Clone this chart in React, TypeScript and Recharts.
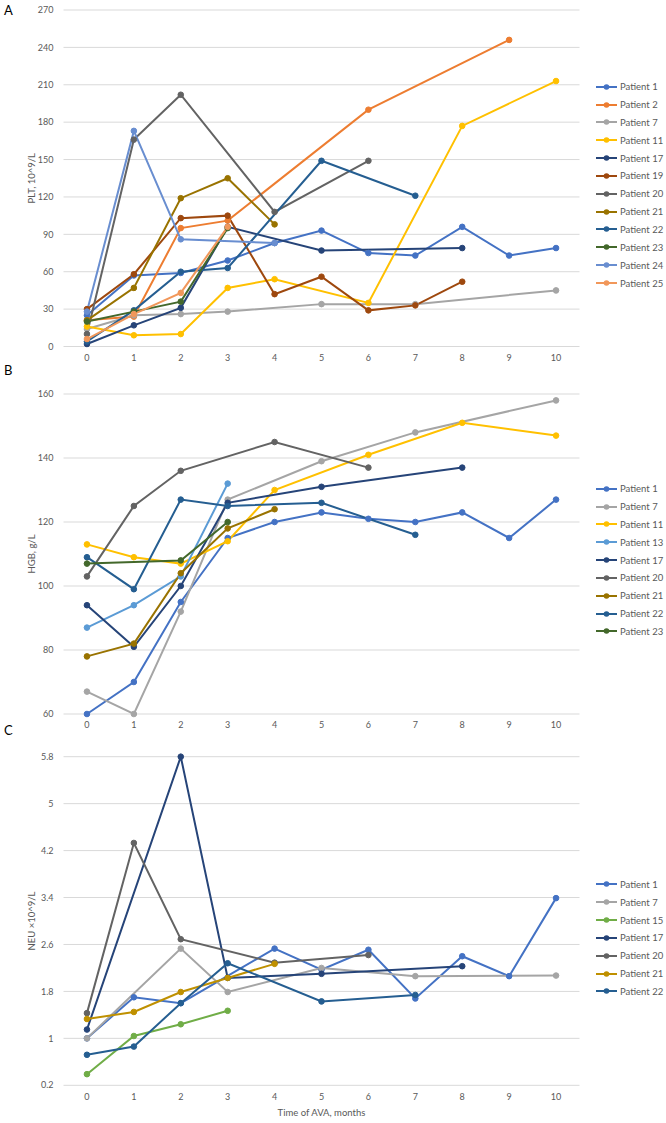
import React from 'react';
import { LineChart, Line, XAxis, YAxis, CartesianGrid } from 'recharts';

// months on the x axis (Time of AVA)
const months = [0, 1, 2, 3, 4, 5, 6, 7, 8, 9, 10];
const monthTicks = [0, 1, 2, 3, 4, 5, 6, 7, 8, 9, 10];

// A: PLT, 10^9/L
const pltNames = ['Patient 1', 'Patient 2', 'Patient 7', 'Patient 11', 'Patient 17', 'Patient 19', 'Patient 20', 'Patient 21', 'Patient 22', 'Patient 23', 'Patient 24', 'Patient 25'];
const pltP1 = [25, 57, 59, 69, 83, 93, 75, 73, 96, 73, 79];
const pltP2 = [21, 24, 95, 101, null, null, 190, null, null, 246, null];
const pltP7 = [14, 25, 26, 28, null, 34, null, 34, null, null, 45];
const pltP11 = [16, 9, 10, 47, 54, null, 35, null, 177, null, 213];
const pltP17 = [2, 17, 31, 96, null, 77, null, null, 79, null, null];
const pltP19 = [30, 58, 103, 105, 42, 56, 29, 33, 52, null, null];
const pltP20 = [10, 166, 202, null, 108, null, 149, null, null, null, null];
const pltP21 = [21, 47, 119, 135, 98, null, null, null, null, null, null];
const pltP22 = [4, 29, 60, 63, null, 149, null, 121, null, null, null];
const pltP23 = [20, 28, 36, 95, null, null, null, null, null, null, null];
const pltP24 = [28, 173, 86, null, 83, null, null, null, null, null, null];
const pltP25 = [6, 26, 43, 96, null, null, null, null, null, null, null];
const pltTicks = [0, 30, 60, 90, 120, 150, 180, 210, 240, 270];

// B: HGB, g/L
const hgbNames = ['Patient 1', 'Patient 7', 'Patient 11', 'Patient 13', 'Patient 17', 'Patient 20', 'Patient 21', 'Patient 22', 'Patient 23'];
const hgbP1 = [60, 70, 95, 115, 120, 123, 121, 120, 123, 115, 127];
const hgbP7 = [67, 60, 92, 127, null, 139, null, 148, null, null, 158];
const hgbP11 = [113, 109, 107, 114, 130, null, 141, null, 151, null, 147];
const hgbP13 = [87, 94, 103, 132, null, null, null, null, null, null, null];
const hgbP17 = [94, 81, 100, 126, null, 131, null, null, 137, null, null];
const hgbP20 = [103, 125, 136, null, 145, null, 137, null, null, null, null];
const hgbP21 = [78, 82, 104, 118, 124, null, null, null, null, null, null];
const hgbP22 = [109, 99, 127, 125, null, 126, null, 116, null, null, null];
const hgbP23 = [107, null, 108, 120, null, null, null, null, null, null, null];
const hgbTicks = [60, 80, 100, 120, 140, 160];

// C: NEU x10^9/L
const neuNames = ['Patient 1', 'Patient 7', 'Patient 15', 'Patient 17', 'Patient 20', 'Patient 21', 'Patient 22'];
const neuP1 = [1.0, 1.7, 1.6, null, 2.53, 2.17, 2.51, 1.68, 2.4, 2.06, 3.39];
const neuP7 = [1.0, null, 2.53, 1.79, null, 2.2, null, 2.06, null, null, 2.07];
const neuP15 = [0.39, 1.04, 1.24, 1.47, null, null, null, null, null, null, null];
const neuP17 = [1.15, null, 5.8, 2.03, null, 2.1, null, null, 2.23, null, null];
const neuP20 = [1.43, 4.33, 2.69, null, 2.29, null, 2.42, null, null, null, null];
const neuP21 = [1.33, 1.45, 1.79, 2.03, 2.27, null, null, null, null, null, null];
const neuP22 = [0.72, 0.86, 1.6, 2.28, null, 1.63, null, 1.74, null, null, null];
const neuTicks = [0.2, 1, 1.8, 2.6, 3.4, 4.2, 5, 5.8];

const patientColors: Record<string, string> = {
  'Patient 1': '#4472C4',
  'Patient 2': '#ED7D31',
  'Patient 7': '#A5A5A5',
  'Patient 11': '#FFC000',
  'Patient 13': '#5B9BD5',
  'Patient 15': '#70AD47',
  'Patient 17': '#264478',
  'Patient 19': '#9E480E',
  'Patient 20': '#636363',
  'Patient 21': '#997300',
  'Patient 22': '#255E91',
  'Patient 23': '#43682B',
  'Patient 24': '#698ED0',
  'Patient 25': '#F1975A',
};

const FONT = 'Lato, "Open Sans", sans-serif';
const TEXT = '#595959';

const buildRows = (names: string[], values: (number | null)[][]) =>
  months.map((m, i) => {
    const row: any = { month: m };
    names.forEach((n, k) => {
      row[n] = values[k][i];
    });
    return row;
  });

interface PanelProps {
  letter: string;
  top: number;
  height: number;
  marginTop: number;
  marginBottom: number;
  xAxisHeight: number;
  names: string[];
  values: (number | null)[][];
  domain: [number, number];
  ticks: number[];
  yLabel: string;
  xLabel?: string;
  legendTop: number;
  colorOverride?: Record<string, string>;
}

const Panel: React.FC<PanelProps> = ({
  letter, top, height, marginTop, marginBottom, xAxisHeight, names, values,
  domain, ticks, yLabel, xLabel, legendTop, colorOverride = {},
}) => {
  const rows = buildRows(names, values);
  const colorOf = (n: string) => colorOverride[n] || patientColors[n];

  return (
    <div style={{ position: 'absolute', left: 0, top, width: 666, height }}>
      <div style={{ position: 'absolute', left: 4, top: 2, fontFamily: FONT, fontSize: 13, color: '#000' }}>
        {letter}
      </div>
      <LineChart
        width={666}
        height={height}
        data={rows}
        margin={{ top: marginTop, right: 86.5, left: 0, bottom: marginBottom }}
        style={{ fontFamily: FONT }}
      >
        <CartesianGrid vertical={false} stroke="#D9D9D9" strokeWidth={1} />
        <XAxis
          dataKey="month"
          type="number"
          domain={[-0.5, 10.5]}
          ticks={monthTicks}
          axisLine={false}
          tickLine={false}
          tickMargin={2}
          height={xAxisHeight}
          tick={{ fill: TEXT, fontSize: 9 }}
          label={xLabel ? { value: xLabel, position: 'insideBottom', offset: -1, fill: TEXT, fontSize: 9.5 } : undefined}
        />
        <YAxis
          type="number"
          domain={domain}
          ticks={ticks}
          width={63.5}
          axisLine={false}
          tickLine={false}
          tickMargin={4}
          tick={{ fill: TEXT, fontSize: 9 }}
          label={{ value: yLabel, angle: -90, position: 'center', dx: 0, fill: TEXT, fontSize: 9.5 }}
        />
        {names.map((n) => (
          <Line
            key={n}
            dataKey={n}
            type="linear"
            stroke={colorOf(n)}
            strokeWidth={2}
            dot={{ r: 2.8, fill: colorOf(n), stroke: colorOf(n), strokeWidth: 1 }}
            connectNulls
            isAnimationActive={false}
          />
        ))}
      </LineChart>
      <div style={{ position: 'absolute', left: 595, top: legendTop, fontFamily: FONT, fontSize: 9.5, color: TEXT }}>
        {names.map((n) => (
          <div key={n} style={{ display: 'flex', alignItems: 'center', height: 17.85 }}>
            <svg width={23} height={8} style={{ marginRight: 2 }}>
              <line x1={1} y1={4} x2={22} y2={4} stroke={colorOf(n)} strokeWidth={2} />
              <circle cx={11.5} cy={4} r={2.8} fill={colorOf(n)} />
            </svg>
            <span>{n}</span>
          </div>
        ))}
      </div>
    </div>
  );
};

const App: React.FC = () => {
  return (
    <div style={{ position: 'absolute', left: 0, top: 0, width: 666, height: 1123, background: '#fff' }}>
      <Panel
        letter="A"
        top={0}
        height={372}
        marginTop={10}
        marginBottom={5.5}
        xAxisHeight={20}
        names={pltNames}
        values={[pltP1, pltP2, pltP7, pltP11, pltP17, pltP19, pltP20, pltP21, pltP22, pltP23, pltP24, pltP25]}
        domain={[0, 270]}
        ticks={pltTicks}
        yLabel="PLT, 10^9/L"
        legendTop={77.8}
      />
      <Panel
        letter="B"
        top={360}
        height={380}
        marginTop={34}
        marginBottom={6}
        xAxisHeight={20}
        names={hgbNames}
        values={[hgbP1, hgbP7, hgbP11, hgbP13, hgbP17, hgbP20, hgbP21, hgbP22, hgbP23]}
        domain={[60, 160]}
        ticks={hgbTicks}
        yLabel="HGB, g/L"
        legendTop={119.8}
      />
      <Panel
        letter="C"
        top={720}
        height={403}
        marginTop={36.7}
        marginBottom={7.7}
        xAxisHeight={30}
        names={neuNames}
        values={[neuP1, neuP7, neuP15, neuP17, neuP20, neuP21, neuP22]}
        domain={[0.2, 5.8]}
        ticks={neuTicks}
        yLabel="NEU ×10^9/L"
        xLabel="Time of AVA, months"
        legendTop={155.4}
        colorOverride={{ 'Patient 21': '#BF9000' }}
      />
    </div>
  );
};

export default App;
